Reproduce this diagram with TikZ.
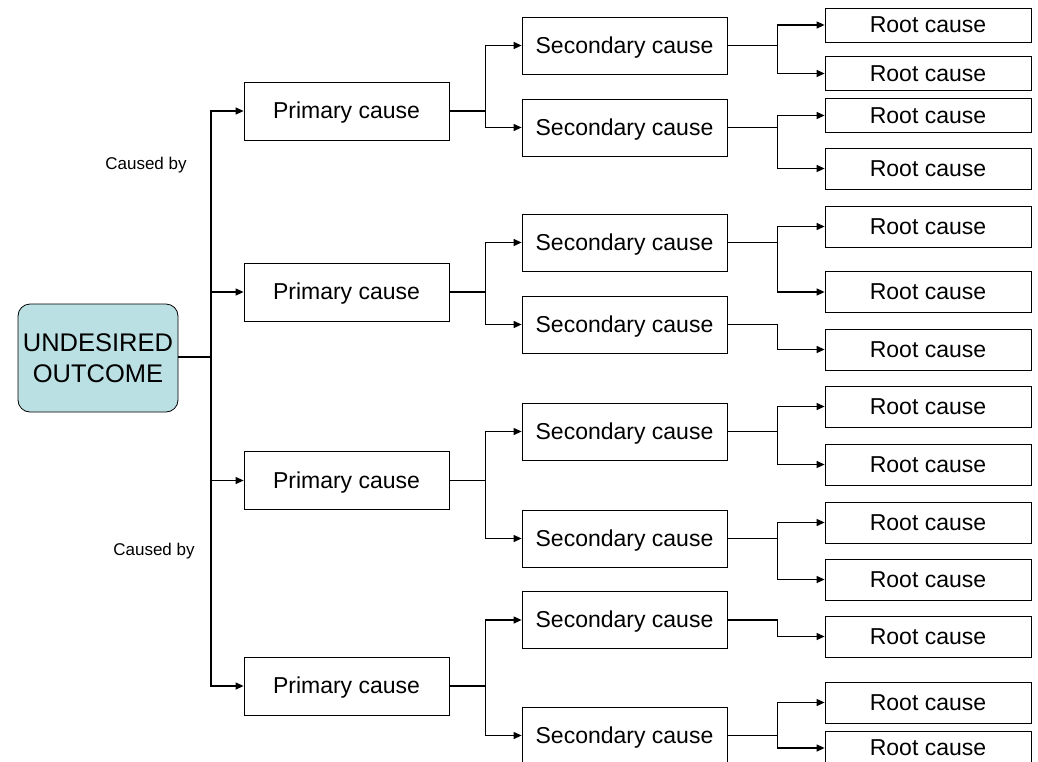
\documentclass[tikz,border=0pt]{standalone}
\usepackage{fontspec}
\setmainfont{Liberation Sans}
\usepackage{xcolor}
\usetikzlibrary{arrows.meta,positioning}
\definecolor{outfill}{RGB}{186,224,227}

\begin{document}
\begin{tikzpicture}[x=1pt, y=-1pt,
  bx/.style={draw, line width=0.8pt, inner sep=0pt, text height=20.8pt, text depth=4.9pt, font=\fontsize{23}{27}\selectfont},
  pc/.style={bx, minimum width=205pt, minimum height=58pt},
  sc/.style={bx, minimum width=205pt, minimum height=57pt},
  rc/.style={bx, minimum width=206pt, minimum height=41pt},
  rs/.style={bx, minimum width=206pt, minimum height=34pt},
  arr/.style={-{Triangle[length=8pt,width=7pt]}, line width=1.2pt},
  ln/.style={line width=1.2pt},
  tr/.style={font=\fontsize{17}{20}\selectfont}]
\useasboundingbox (0,0) rectangle (1038,761);
\node[draw, line width=0.8pt, rounded corners=12pt, fill=outfill, minimum width=160pt, minimum height=108pt,
  align=center, font=\fontsize{25.5}{31}\selectfont] (out) at (98,358) {UNDESIRED\\OUTCOME};
\node[tr] (cb1) at (146,165) {Caused by};
\node[tr] (cb2) at (154,551) {Caused by};
% primary causes
\node[pc] (p1) at (346.5,111)   {Primary cause};
\node[pc] (p2) at (346.5,292)   {Primary cause};
\node[pc] (p3) at (346.5,480.5) {Primary cause};
\node[pc] (p4) at (346.5,686)   {Primary cause};
% secondary causes
\node[sc] (s1) at (624.5,45.5)  {Secondary cause};
\node[sc] (s2) at (624.5,127.5) {Secondary cause};
\node[sc] (s3) at (624.5,242.5) {Secondary cause};
\node[sc] (s4) at (624.5,324.5) {Secondary cause};
\node[sc] (s5) at (624.5,431.5) {Secondary cause};
\node[sc] (s6) at (624.5,538.5) {Secondary cause};
\node[sc] (s7) at (624.5,620)   {Secondary cause};
\node[sc] (s8) at (624.5,735.5) {Secondary cause};
% root causes
\node[rs] (r1)  at (928,25)    {Root cause};
\node[rs] (r2)  at (928,73.5)  {Root cause};
\node[rs] (r3)  at (928,115.5) {Root cause};
\node[rc] (r4)  at (928,168.5) {Root cause};
\node[rc] (r5)  at (928,226.5) {Root cause};
\node[rc] (r6)  at (928,292)   {Root cause};
\node[rc] (r7)  at (928,349.5) {Root cause};
\node[rc] (r8)  at (928,406.5) {Root cause};
\node[rc] (r9)  at (928,464.5) {Root cause};
\node[rc] (r10) at (928,522.5) {Root cause};
\node[rc] (r11) at (928,579.5) {Root cause};
\node[rc] (r12) at (928,636.5) {Root cause};
\node[rc] (r13) at (928,702.5) {Root cause};
\node[rs] (r14) at (928,748)   {Root cause};
% outcome to primary
\coordinate (tk) at (211,357);
\draw[ln] (out.east |- tk) -- (tk);
\draw[arr] (tk) |- (p1.west);
\draw[arr] (tk) |- (p2.west);
\draw[arr] (tk) |- (p3.west);
\draw[arr] (tk) |- (p4.west);
% primary to secondary
\draw[arr] (p1.east) -- ++(36,0) |- (s1.west);
\draw[arr] (p1.east) -- ++(36,0) |- (s2.west);
\draw[arr] (p2.east) -- ++(36,0) |- (s3.west);
\draw[arr] (p2.east) -- ++(36,0) |- (s4.west);
\draw[arr] (p3.east) -- ++(36,0) |- (s5.west);
\draw[arr] (p3.east) -- ++(36,0) |- (s6.west);
\draw[arr] (p4.east) -- ++(36,0) |- (s7.west);
\draw[arr] (p4.east) -- ++(36,0) |- (s8.west);
% secondary to root
\draw[arr] (s1.east) -- ++(50,0) |- (r1.west);
\draw[arr] (s1.east) -- ++(50,0) |- (r2.west);
\draw[arr] (s2.east) -- ++(50,0) |- (r3.west);
\draw[arr] (s2.east) -- ++(50,0) |- (r4.west);
\draw[arr] (s3.east) -- ++(50,0) |- (r5.west);
\draw[arr] (s3.east) -- ++(50,0) |- (r6.west);
\draw[arr] (s4.east) -- ++(50,0) |- (r7.west);
\draw[arr] (s5.east) -- ++(50,0) |- (r8.west);
\draw[arr] (s5.east) -- ++(50,0) |- (r9.west);
\draw[arr] (s6.east) -- ++(50,0) |- (r10.west);
\draw[arr] (s6.east) -- ++(50,0) |- (r11.west);
\draw[arr] (s7.east) -- ++(50,0) |- (r12.west);
\draw[arr] (s8.east) -- ++(50,0) |- (r13.west);
\draw[arr] (s8.east) -- ++(50,0) |- (r14.west);
\end{tikzpicture}
\end{document}
